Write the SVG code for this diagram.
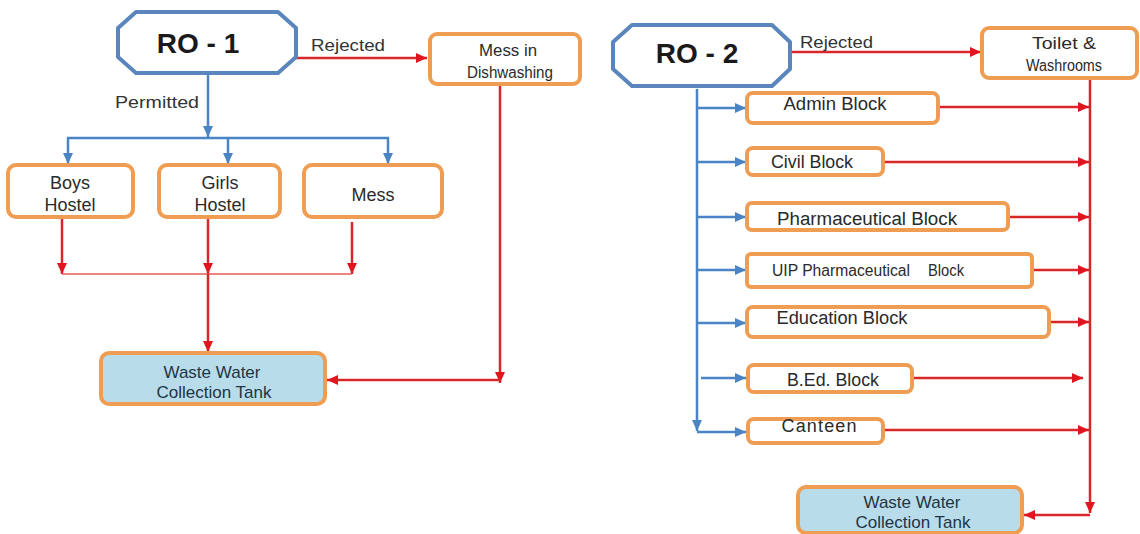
<svg xmlns="http://www.w3.org/2000/svg" width="1140" height="534" viewBox="0 0 1140 534">
<style>
.oct{fill:#fff;stroke:#5a86bd;stroke-width:4;stroke-linejoin:round}
.box{fill:#fff;stroke:#ee9d52;stroke-width:4}
.tank{fill:#b8dcea;stroke:#ee9d52;stroke-width:4}
.ro{font-family:"Liberation Sans",Arial,sans-serif;font-weight:bold;font-size:28px;fill:#1a1a1a;text-anchor:middle}
.t{font-family:"Liberation Sans",Arial,sans-serif;font-size:18px;fill:#2a2a2a;text-anchor:middle}
.s{font-family:"Liberation Sans",Arial,sans-serif;font-size:16px;fill:#2a2a2a;text-anchor:middle}
.lbl{font-family:"Liberation Sans",Arial,sans-serif;font-size:17px;fill:#333}
.tk{font-family:"Liberation Sans",Arial,sans-serif;font-size:17px;fill:#1f3444;text-anchor:middle}
.b{fill:none;stroke:#4a84c4;stroke-width:2.5}
.r{fill:none;stroke:#d8262b;stroke-width:2.5}
.rt{fill:none;stroke:#e85a5a;stroke-width:1.5}
</style>
<defs>
<marker id="ab" markerUnits="userSpaceOnUse" markerWidth="11" markerHeight="10" refX="11" refY="5" orient="auto"><path d="M0,0 L11,5 L0,10 z" fill="#4a84c4"/></marker>
<marker id="ar" markerUnits="userSpaceOnUse" markerWidth="11" markerHeight="10" refX="11" refY="5" orient="auto"><path d="M0,0 L11,5 L0,10 z" fill="#e0161e"/></marker>
</defs>

<g id="connectors">
<line class="r" x1="296" y1="58" x2="427" y2="58" marker-end="url(#ar)"/>
<line class="b" x1="208" y1="74" x2="208" y2="137" marker-end="url(#ab)"/>
<line class="b" x1="67" y1="138" x2="389" y2="138"/>
<line class="b" x1="68" y1="138" x2="68" y2="164" marker-end="url(#ab)"/>
<line class="b" x1="228" y1="138" x2="228" y2="164" marker-end="url(#ab)"/>
<line class="b" x1="388" y1="138" x2="388" y2="164" marker-end="url(#ab)"/>
<line class="r" x1="62" y1="219" x2="62" y2="274" marker-end="url(#ar)"/>
<line class="r" x1="208" y1="219" x2="208" y2="274" marker-end="url(#ar)"/>
<line class="r" x1="352" y1="222" x2="352" y2="274" marker-end="url(#ar)"/>
<line class="rt" x1="62" y1="274" x2="352" y2="274"/>
<line class="r" x1="208" y1="274" x2="208" y2="352" marker-end="url(#ar)"/>
<line class="r" x1="500" y1="85" x2="500" y2="383" marker-end="url(#ar)"/>
<line class="r" x1="500" y1="380" x2="327" y2="380" marker-end="url(#ar)"/>
<line class="r" x1="790" y1="52" x2="981" y2="52" marker-end="url(#ar)"/>
<line class="b" x1="697" y1="89" x2="697" y2="431" marker-end="url(#ab)"/>
<line class="b" x1="697" y1="108" x2="746" y2="108" marker-end="url(#ab)"/>
<line class="b" x1="697" y1="162" x2="746" y2="162" marker-end="url(#ab)"/>
<line class="b" x1="697" y1="217" x2="746" y2="217" marker-end="url(#ab)"/>
<line class="b" x1="697" y1="270" x2="746" y2="270" marker-end="url(#ab)"/>
<line class="b" x1="697" y1="323" x2="746" y2="323" marker-end="url(#ab)"/>
<line class="b" x1="701" y1="378" x2="746" y2="378" marker-end="url(#ab)"/>
<line class="b" x1="697" y1="432" x2="746" y2="432" marker-end="url(#ab)"/>
<line class="r" x1="1090" y1="79" x2="1090" y2="513" marker-end="url(#ar)"/>
<line class="r" x1="1090" y1="515" x2="1024" y2="515" marker-end="url(#ar)"/>
<line class="r" x1="939" y1="107" x2="1089" y2="107" marker-end="url(#ar)"/>
<line class="r" x1="884" y1="162" x2="1089" y2="162" marker-end="url(#ar)"/>
<line class="r" x1="1009" y1="217" x2="1089" y2="217" marker-end="url(#ar)"/>
<line class="r" x1="1033" y1="270" x2="1089" y2="270" marker-end="url(#ar)"/>
<line class="r" x1="1050" y1="322" x2="1089" y2="322" marker-end="url(#ar)"/>
<line class="r" x1="913" y1="378" x2="1083" y2="378" marker-end="url(#ar)"/>
<line class="r" x1="884" y1="430" x2="1089" y2="430" marker-end="url(#ar)"/>
</g>

<g id="labels">
<text class="lbl" x="311" y="51" textLength="74" lengthAdjust="spacingAndGlyphs">Rejected</text>
<text class="lbl" x="115" y="108" textLength="84" lengthAdjust="spacingAndGlyphs">Permitted</text>
<text class="lbl" x="800" y="48" textLength="73" lengthAdjust="spacingAndGlyphs">Rejected</text>
</g>

<g id="ro1">
<polygon class="oct" points="136,12 278,12 296,28 296,57 278,73 136,73 118,57 118,28"/>
<text class="ro" x="198" y="53">RO - 1</text>
</g>
<g id="mess-dishwashing">
<rect class="box" x="430" y="34" width="150" height="50" rx="7"/>
<text class="s" x="508" y="56" textLength="58" lengthAdjust="spacingAndGlyphs">Mess in</text>
<text class="s" x="510" y="78" textLength="86" lengthAdjust="spacingAndGlyphs">Dishwashing</text>
</g>
<g id="boys-hostel">
<rect class="box" x="8" y="165" width="125" height="52" rx="8"/>
<text class="t" x="70" y="189">Boys</text>
<text class="t" x="70" y="211">Hostel</text>
</g>
<g id="girls-hostel">
<rect class="box" x="159" y="165" width="121" height="52" rx="8"/>
<text class="t" x="220" y="189">Girls</text>
<text class="t" x="220" y="211">Hostel</text>
</g>
<g id="mess">
<rect class="box" x="304" y="165" width="138" height="52" rx="8"/>
<text class="t" x="373" y="201">Mess</text>
</g>
<g id="tank1">
<rect class="tank" x="101" y="353" width="224" height="51" rx="8"/>
<text class="tk" x="212" y="378">Waste Water</text>
<text class="tk" x="214" y="398">Collection Tank</text>
</g>

<g id="ro2">
<polygon class="oct" points="632,25 772,25 790,42 790,69 772,86 632,86 613,69 613,42"/>
<text class="ro" x="697" y="63">RO - 2</text>
</g>
<g id="toilet">
<rect class="box" x="982" y="28" width="155" height="50" rx="7"/>
<text class="s" x="1064" y="49" textLength="64" lengthAdjust="spacingAndGlyphs">Toilet &amp;</text>
<text class="s" x="1064" y="71" textLength="76" lengthAdjust="spacingAndGlyphs">Washrooms</text>
</g>
<g id="admin">
<rect class="box" x="747" y="93" width="191" height="30" rx="6"/>
<text class="t" x="835" y="110" textLength="103" lengthAdjust="spacingAndGlyphs">Admin Block</text>
</g>
<g id="civil">
<rect class="box" x="747" y="148" width="136" height="27" rx="6"/>
<text class="t" x="812" y="168" textLength="82" lengthAdjust="spacingAndGlyphs">Civil Block</text>
</g>
<g id="pharma">
<rect class="box" x="747" y="203" width="261" height="27" rx="5"/>
<text class="t" x="867" y="225" textLength="180" lengthAdjust="spacingAndGlyphs">Pharmaceutical Block</text>
</g>
<g id="uip">
<rect class="box" x="747" y="254" width="285" height="33" rx="4"/>
<text class="s" x="841" y="276" textLength="138" lengthAdjust="spacingAndGlyphs">UIP Pharmaceutical</text>
<text class="s" x="946" y="276" textLength="36" lengthAdjust="spacingAndGlyphs">Block</text>
</g>
<g id="education">
<rect class="box" x="747" y="307" width="302" height="30" rx="6"/>
<text class="t" x="842" y="324" textLength="131" lengthAdjust="spacingAndGlyphs">Education Block</text>
</g>
<g id="bed">
<rect class="box" x="748" y="365" width="164" height="27" rx="6"/>
<text class="t" x="833" y="386" textLength="92" lengthAdjust="spacingAndGlyphs">B.Ed. Block</text>
</g>
<g id="canteen">
<rect class="box" x="748" y="419" width="135" height="24" rx="6"/>
<text class="t" x="819" y="432" textLength="75">Canteen</text>
</g>
<g id="tank2">
<rect class="tank" x="798" y="487" width="224" height="46" rx="8"/>
<text class="tk" x="912" y="508">Waste Water</text>
<text class="tk" x="913" y="528">Collection Tank</text>
</g>
</svg>
